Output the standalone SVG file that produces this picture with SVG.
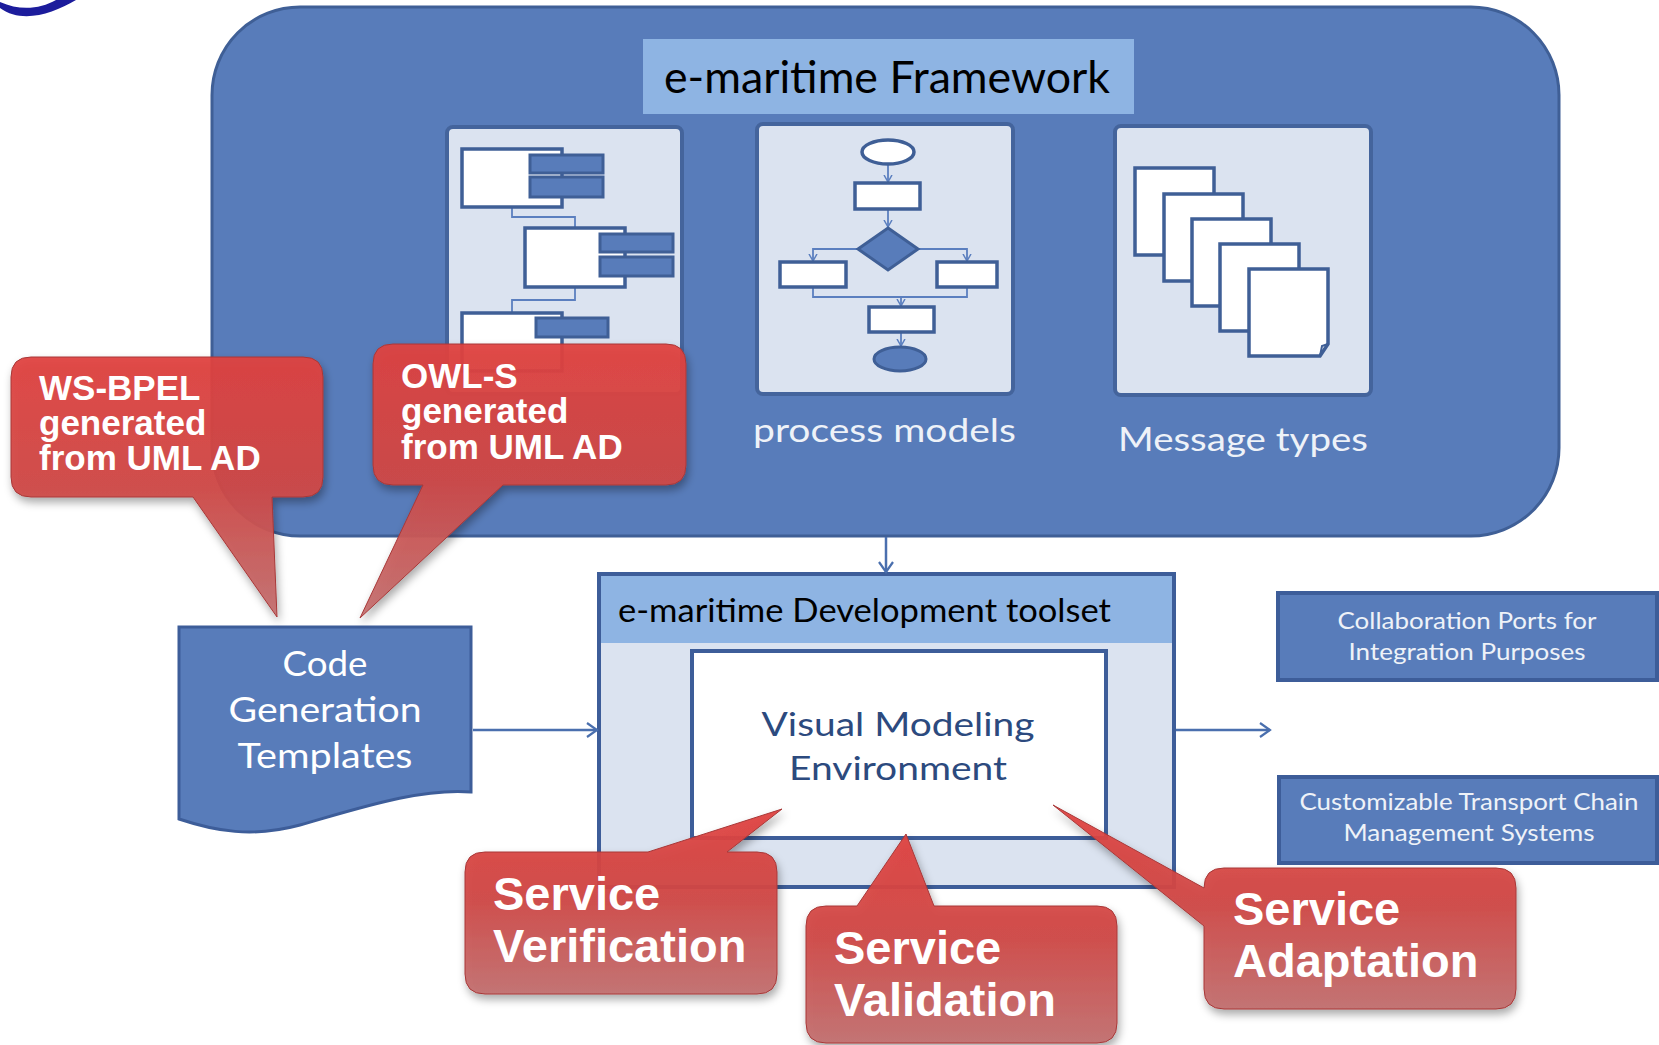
<svg xmlns="http://www.w3.org/2000/svg" width="1659" height="1045" viewBox="0 0 1659 1045">
<style>
.cal{font-family:Lato,"Open Sans","Liberation Sans",sans-serif}
.call{font-family:"Liberation Sans",Arial,sans-serif;font-weight:bold;fill:#fff}
.panel{fill:#dbe3f0;stroke:#44649c;stroke-width:4}
.wb{fill:#fff;stroke:#3f5f96;stroke-width:3.5}
.bb{fill:#587cba;stroke:#3f5f96;stroke-width:3}
.thin{fill:none;stroke:#5b7fbf;stroke-width:1.8}
.conn{fill:none;stroke:#4a6fae;stroke-width:2.5}
.bubble{fill:url(#rg);fill-opacity:0.94;stroke:#a83838;stroke-width:1;filter:url(#sh)}
</style>
<defs>
<linearGradient id="rg" x1="0" y1="0" x2="0" y2="1">
<stop offset="0" stop-color="#e0423f"/>
<stop offset="0.5" stop-color="#cf4846"/>
<stop offset="1" stop-color="#c27070"/>
</linearGradient>
<filter id="sh" x="-10%" y="-10%" width="125%" height="135%">
<feDropShadow dx="2" dy="5" stdDeviation="4" flood-color="#000" flood-opacity="0.35"/>
</filter>
<marker id="av" markerWidth="16" markerHeight="16" refX="11" refY="8" orient="auto" markerUnits="userSpaceOnUse">
<path d="M1,1 L11,8 L1,15" fill="none" stroke="#4a6fae" stroke-width="2.2"/>
</marker>
<marker id="sv" markerWidth="10" markerHeight="10" refX="7" refY="5" orient="auto" markerUnits="userSpaceOnUse">
<path d="M0,1 L7,5 L0,9" fill="none" stroke="#5b7fbf" stroke-width="1.5"/>
</marker>
</defs>
<rect width="1659" height="1045" fill="#fff"/>
<path id="logo" d="M0,8 C22,24 52,14 76,0 L56,0 C40,9 20,11 0,2 Z" fill="#1c1c9c"/>

<g id="framework">
<rect x="212" y="7" width="1347" height="529" rx="88" ry="88" fill="#587cba" stroke="#3f5f96" stroke-width="3"/>
<rect x="643" y="39" width="491" height="75" fill="#8eb4e3"/>
<text x="664" y="93" class="cal" font-size="45" fill="#000" textLength="446" lengthAdjust="spacingAndGlyphs">e-maritime Framework</text>
</g>

<g id="panel-classes">
<rect x="447" y="127" width="235" height="267" rx="6" class="panel"/>
<polyline points="512,207 512,217 575,217 575,228" class="thin"/>
<polyline points="575,287 575,300 512,300 512,313" class="thin"/>
<rect x="462" y="149" width="100" height="58" class="wb"/>
<rect x="530" y="155" width="73" height="18" class="bb"/>
<rect x="530" y="177" width="73" height="20" class="bb"/>
<rect x="525" y="228" width="100" height="59" class="wb"/>
<rect x="600" y="234" width="73" height="18" class="bb"/>
<rect x="600" y="257" width="73" height="19" class="bb"/>
<rect x="462" y="313" width="100" height="58" class="wb"/>
<rect x="536" y="318" width="72" height="19" class="bb"/>
</g>

<g id="panel-process">
<rect x="757" y="124" width="256" height="270" rx="6" class="panel"/>
<line x1="888" y1="164" x2="888" y2="182" class="thin" marker-end="url(#sv)"/>
<line x1="888" y1="209" x2="888" y2="227" class="thin" marker-end="url(#sv)"/>
<polyline points="858,249 813,249 813,261" class="thin" marker-end="url(#sv)"/>
<polyline points="918,249 967,249 967,261" class="thin" marker-end="url(#sv)"/>
<polyline points="813,287 813,297 967,297 967,287" class="thin"/>
<line x1="901" y1="297" x2="901" y2="306" class="thin" marker-end="url(#sv)"/>
<line x1="901" y1="332" x2="901" y2="346" class="thin" marker-end="url(#sv)"/>
<ellipse cx="888" cy="152" rx="26" ry="12" class="wb"/>
<rect x="855" y="183" width="65" height="26" class="wb"/>
<polygon points="888,228 918,249 888,270 858,249" class="bb"/>
<rect x="780" y="262" width="66" height="25" class="wb"/>
<rect x="937" y="262" width="60" height="25" class="wb"/>
<rect x="869" y="307" width="65" height="25" class="wb"/>
<ellipse cx="900" cy="359" rx="26" ry="12" class="bb"/>
<text x="753" y="442" class="cal" font-size="33" fill="#eef2f8" textLength="263" lengthAdjust="spacingAndGlyphs">process models</text>
</g>

<g id="panel-messages">
<rect x="1115" y="126" width="256" height="269" rx="6" class="panel"/>
<rect x="1135" y="168" width="79" height="87" class="wb"/>
<rect x="1164" y="194" width="79" height="87" class="wb"/>
<rect x="1192" y="219" width="79" height="87" class="wb"/>
<rect x="1220" y="244" width="79" height="87" class="wb"/>
<path d="M1249,269 H1328 V344 L1320,356 H1249 Z" class="wb"/>
<path d="M1320,356 L1322,346 L1328,344" fill="none" stroke="#3f5f96" stroke-width="2"/>
<text x="1118" y="451" class="cal" font-size="33" fill="#eef2f8" textLength="250" lengthAdjust="spacingAndGlyphs">Message types</text>
</g>

<g id="toolset">
<rect x="599" y="574" width="575" height="313" fill="#dbe3f0" stroke="#3d5d99" stroke-width="4"/>
<rect x="601" y="576" width="571" height="67" fill="#8eb4e3"/>
<text x="618" y="622" class="cal" font-size="33" fill="#000" textLength="493" lengthAdjust="spacingAndGlyphs">e-maritime Development toolset</text>
</g>

<g id="visual-modeling">
<rect x="692" y="651" width="414" height="187" fill="#fff" stroke="#3d5d99" stroke-width="4"/>
<text x="898" y="736" class="cal" font-size="33" fill="#2c4a7e" text-anchor="middle" textLength="273" lengthAdjust="spacingAndGlyphs">Visual Modeling</text>
<text x="898" y="780" class="cal" font-size="33" fill="#2c4a7e" text-anchor="middle" textLength="218" lengthAdjust="spacingAndGlyphs">Environment</text>
</g>

<g id="code-generation">
<path d="M179,627 H471 V792 C420,788 360,808 300,825 C252,838 215,831 179,819 Z" fill="#587cba" stroke="#3d5d99" stroke-width="3"/>
<text x="325" y="676" class="cal" font-size="34" fill="#fff" text-anchor="middle" textLength="85" lengthAdjust="spacingAndGlyphs">Code</text>
<text x="325" y="722" class="cal" font-size="34" fill="#fff" text-anchor="middle" textLength="193" lengthAdjust="spacingAndGlyphs">Generation</text>
<text x="325" y="768" class="cal" font-size="34" fill="#fff" text-anchor="middle" textLength="175" lengthAdjust="spacingAndGlyphs">Templates</text>
</g>

<g id="collaboration-ports">
<rect x="1278" y="593" width="379" height="87" fill="#587cba" stroke="#3d5d99" stroke-width="4"/>
<text x="1467" y="629" class="cal" font-size="23" fill="#eef2f8" text-anchor="middle" textLength="259" lengthAdjust="spacingAndGlyphs">Collaboration Ports for</text>
<text x="1467" y="660" class="cal" font-size="23" fill="#eef2f8" text-anchor="middle" textLength="237" lengthAdjust="spacingAndGlyphs">Integration Purposes</text>
</g>

<g id="transport-chain">
<rect x="1279" y="777" width="378" height="86" fill="#587cba" stroke="#3d5d99" stroke-width="4"/>
<text x="1469" y="810" class="cal" font-size="23" fill="#eef2f8" text-anchor="middle" textLength="339" lengthAdjust="spacingAndGlyphs">Customizable Transport Chain</text>
<text x="1469" y="841" class="cal" font-size="23" fill="#eef2f8" text-anchor="middle" textLength="251" lengthAdjust="spacingAndGlyphs">Management Systems</text>
</g>

<g id="connectors">
<line x1="886" y1="537" x2="886" y2="572" class="conn" marker-end="url(#av)"/>
<line x1="473" y1="730" x2="597" y2="730" class="conn" marker-end="url(#av)"/>
<line x1="1176" y1="730" x2="1270" y2="730" class="conn" marker-end="url(#av)"/>
</g>

<g id="callout-wsbpel">
<path d="M31,357 H303 Q323,357 323,377 V477 Q323,497 303,497 H272 L277,617 L193,497 H31 Q11,497 11,477 V377 Q11,357 31,357 Z" class="bubble"/>
<text class="call" font-size="35"><tspan x="39" y="400">WS-BPEL</tspan><tspan x="39" y="435">generated</tspan><tspan x="39" y="470">from UML AD</tspan></text>
</g>

<g id="callout-owls">
<path d="M393,344 H666 Q686,344 686,364 V465 Q686,485 666,485 H503 L360,618 L423,485 H393 Q373,485 373,465 V364 Q373,344 393,344 Z" class="bubble"/>
<text class="call" font-size="35"><tspan x="401" y="388">OWL-S</tspan><tspan x="401" y="423">generated</tspan><tspan x="401" y="459">from UML AD</tspan></text>
</g>

<g id="callout-verification">
<path d="M485,852 H648 L782,809 L727,852 H757 Q777,852 777,872 V974 Q777,994 757,994 H485 Q465,994 465,974 V872 Q465,852 485,852 Z" class="bubble"/>
<text class="call" font-size="47"><tspan x="493" y="910">Service</tspan><tspan x="493" y="962">Verification</tspan></text>
</g>

<g id="callout-validation">
<path d="M826,906 H857 L906,834 L934,906 H1097 Q1117,906 1117,926 V1023 Q1117,1043 1097,1043 H826 Q806,1043 806,1023 V926 Q806,906 826,906 Z" class="bubble"/>
<text class="call" font-size="47"><tspan x="834" y="964">Service</tspan><tspan x="834" y="1016">Validation</tspan></text>
</g>

<g id="callout-adaptation">
<path d="M1224,868 H1496 Q1516,868 1516,888 V989 Q1516,1009 1496,1009 H1224 Q1204,1009 1204,989 V926 L1053,805 L1204,888 Q1204,868 1224,868 Z" class="bubble"/>
<text class="call" font-size="47"><tspan x="1233" y="925">Service</tspan><tspan x="1233" y="977">Adaptation</tspan></text>
</g>
</svg>
